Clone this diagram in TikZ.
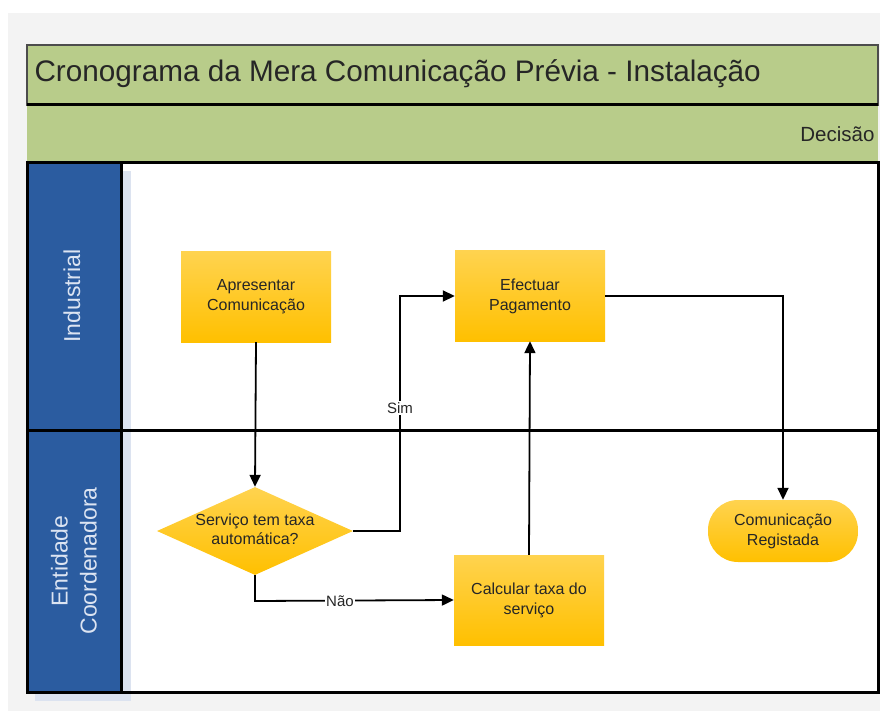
\documentclass[tikz,border=0pt]{standalone}
\usepackage{fontspec}
\setmainfont{Liberation Sans}
\usetikzlibrary{arrows.meta,shapes.geometric}
\definecolor{pagegray}{HTML}{F3F3F3}
\definecolor{hdrgreen}{HTML}{B8CC8A}
\definecolor{laneblue}{HTML}{2B5CA0}
\definecolor{shadowblue}{HTML}{DCE3F0}
\definecolor{boxtop}{HTML}{FFD34F}
\definecolor{boxbot}{HTML}{FFC000}
\definecolor{txt}{HTML}{262626}
\definecolor{lanetxt}{HTML}{DCE4F2}
\tikzset{
  task/.style={rectangle, draw=none, top color=boxtop, bottom color=boxbot,
    minimum width=150pt, minimum height=90pt, inner sep=0pt, align=center,
    text=txt, font=\fontsize{16}{20}\selectfont},
  decision/.style={diamond, draw=none, top color=boxtop, bottom color=boxbot,
    minimum width=196pt, minimum height=88pt, inner sep=0pt, text=txt,
    font=\fontsize{16}{20}\selectfont},
  terminal/.style={rectangle, rounded corners=30pt, draw=none, top color=boxtop,
    bottom color=boxbot, minimum width=150pt, minimum height=62pt, inner sep=0pt,
    align=center, text=txt, font=\fontsize{16}{20}\selectfont},
  flow/.style={line width=1.8pt, -{Triangle[length=12pt,width=11pt]}},
  edgelabel/.style={fill=white, inner sep=1pt, text=txt, font=\fontsize{15}{18}\selectfont},
  lanelabel/.style={rotate=90, text=lanetxt, align=center, font=\fontsize{23}{29}\selectfont},
  border/.style={line width=3pt, black},
}
\begin{document}
\begin{tikzpicture}[x=1pt,y=-1pt]
\useasboundingbox (0,0) rectangle (880,711);
% page
\fill[white] (0,0) rectangle (880,711);
\fill[pagegray] (8,13) rectangle (880,711);
% header bands
\fill[hdrgreen] (27,45) rectangle (878,163);
\draw[line width=1.2pt, black!70] (27,45) rectangle (878,105);
\node[anchor=west, text=txt, font=\fontsize{29.7}{34}\selectfont] (title) at (31,74) {Cronograma da Mera Comunicação Prévia - Instalação};
\node[anchor=east, text=txt, font=\fontsize{20.5}{24}\selectfont] (phase) at (878,134) {Decisão};
% lanes
\fill[white] (121,163) rectangle (878,692);
\fill[shadowblue] (35,171) rectangle (131,701);
\fill[laneblue] (27,163) rectangle (121,692);
\draw[border] (27,105) -- (878,105);
\draw[border] (27,163) rectangle (878,692);
\draw[border] (121,163) -- (121,692);
\draw[border] (27,430) -- (878,430);
\node[lanelabel] (laneA) at (72,296) {Industrial};
\node[lanelabel] (laneB) at (74,561) {Entidade\\Coordenadora};
% nodes
\node[task] (apr) at (256,297) {Apresentar\\Comunicação};
\node[task] (pag) at (530,296) {Efectuar\\Pagamento};
\node[decision] (dec) at (255,531) {\makebox[0pt]{\begin{tabular}{@{}c@{}}Serviço tem taxa\\[-1pt]automática?\end{tabular}}};
\node[task] (calc) at (529,600) {Calcular taxa do\\serviço};
\node[terminal] (reg) at (783,531) {Comunicação\\Registada};
% connectors
\draw[flow] (apr.south) -- (dec.north);
\draw[flow] (dec.east) -- (400,531) -- (400,296) -- (pag.west);
\node[edgelabel] (sim) at (400,408) {Sim};
\draw[flow] (dec.south) -- (255,601) -- (calc.west);
\node[edgelabel] (nao) at (340,601) {Não};
\draw[flow] (calc.north) -- (pag.south);
\draw[flow] (pag.east) -- (783,296) -- (reg.north);
\end{tikzpicture}
\end{document}
